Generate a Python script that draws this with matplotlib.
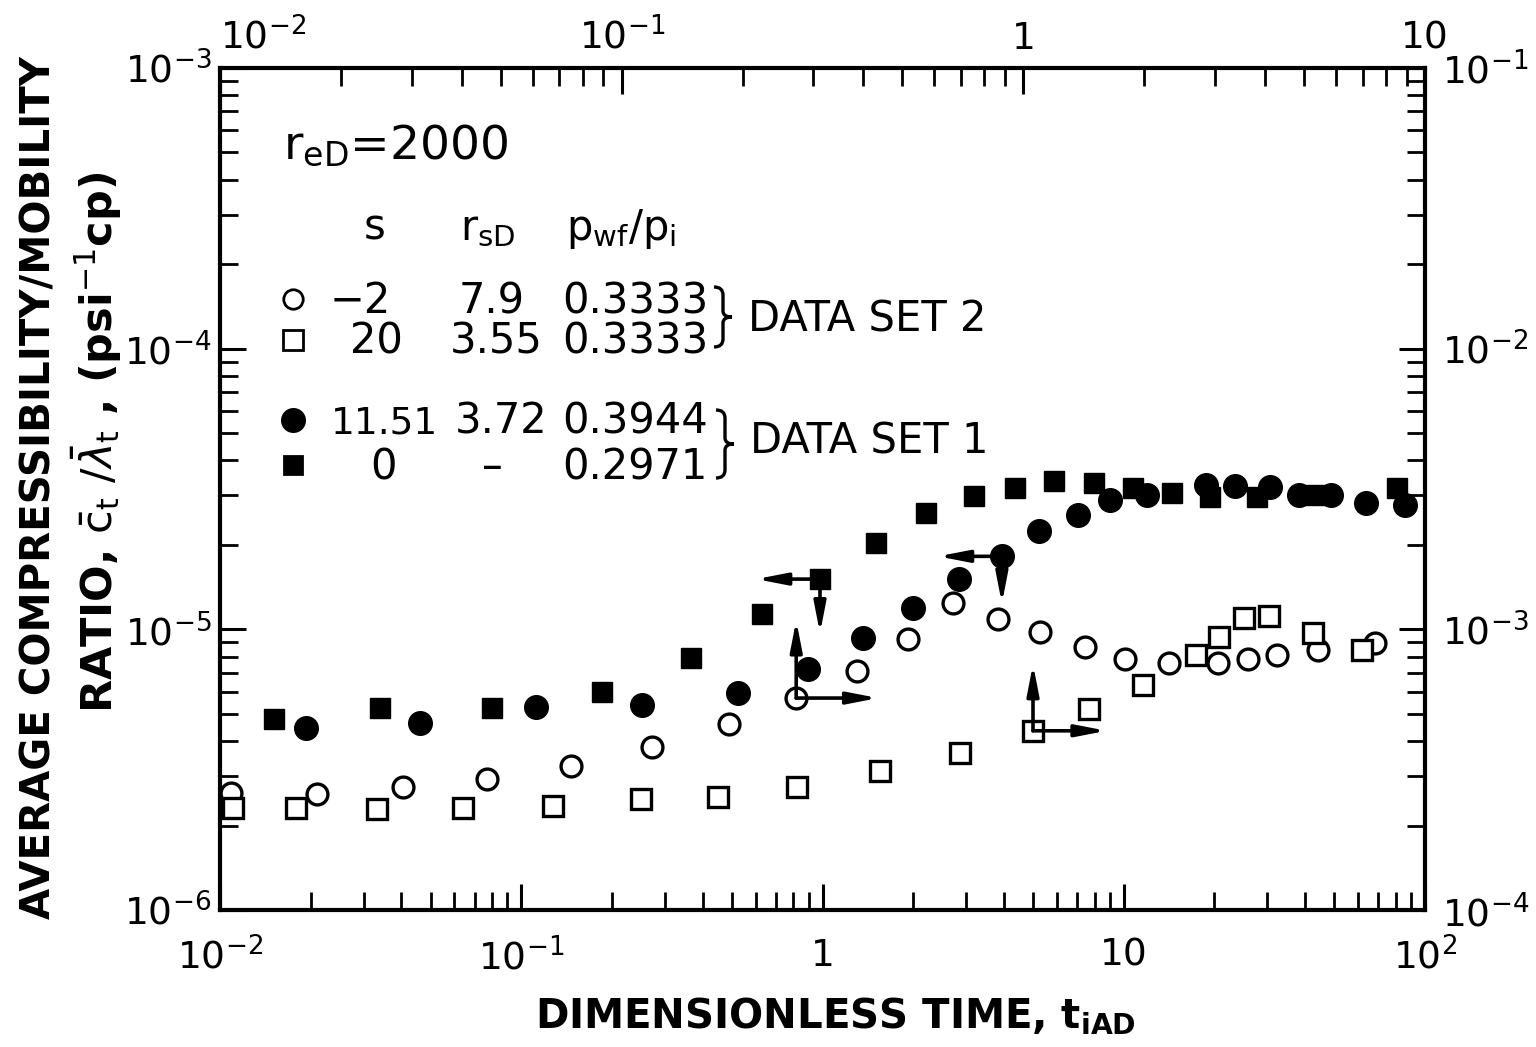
import matplotlib
matplotlib.use("Agg")
import matplotlib.pyplot as plt
from matplotlib.lines import Line2D
from matplotlib.path import Path
from matplotlib.patches import PathPatch
from matplotlib.ticker import NullFormatter

plt.rcParams['font.family'] = ['DejaVu Sans']
plt.rcParams['mathtext.fontset'] = 'dejavusans'

# ---- data set 1 (filled symbols), read on bottom / left axes ----
t_sq1 = [0.0151, 0.0340, 0.0800, 0.185, 0.366, 0.630, 0.981, 1.51, 2.21, 3.18,
         4.36, 5.87, 7.96, 10.7, 14.5, 19.3, 27.7, 43.2, 80.7]
c_sq1 = [4.80e-6, 5.25e-6, 5.25e-6, 5.98e-6, 7.91e-6, 1.135e-5, 1.51e-5, 2.03e-5,
         2.60e-5, 2.99e-5, 3.19e-5, 3.38e-5, 3.32e-5, 3.19e-5, 3.06e-5, 2.97e-5,
         2.97e-5, 3.01e-5, 3.19e-5]
t_ci1 = [0.0193, 0.0461, 0.112, 0.252, 0.524, 0.895, 1.36, 2.00, 2.84, 3.94,
         5.24, 7.05, 9.00, 11.9, 18.7, 23.4, 30.6, 38.2, 48.7, 63.7, 85.9]
c_ci1 = [4.45e-6, 4.63e-6, 5.28e-6, 5.37e-6, 5.93e-6, 7.22e-6, 9.31e-6, 1.19e-5,
         1.51e-5, 1.82e-5, 2.24e-5, 2.55e-5, 2.89e-5, 3.01e-5, 3.27e-5, 3.24e-5,
         3.21e-5, 3.01e-5, 3.01e-5, 2.82e-5, 2.77e-5]

# ---- data set 2 (open symbols), read on top / right axes ----
t_ci2 = [0.01065, 0.01746, 0.02857, 0.0462, 0.0748, 0.119, 0.185, 0.272, 0.385,
         0.516, 0.668, 0.865, 1.10, 1.42, 1.79, 2.31, 3.05, 3.63, 4.28, 5.42, 7.51]
c_ci2 = [2.61e-4, 2.59e-4, 2.74e-4, 2.93e-4, 3.26e-4, 3.81e-4, 4.60e-4, 5.69e-4,
         7.11e-4, 9.24e-4, 1.24e-3, 1.09e-3, 9.77e-4, 8.65e-4, 7.83e-4, 7.59e-4,
         7.59e-4, 7.83e-4, 8.10e-4, 8.43e-4, 8.93e-4]
t_sq2 = [0.01077, 0.01546, 0.0246, 0.0403, 0.0675, 0.1117, 0.174, 0.273, 0.440,
         0.695, 1.057, 1.457, 1.99, 2.69, 3.07, 3.54, 4.09, 5.26, 6.97]
c_sq2 = [2.31e-4, 2.31e-4, 2.29e-4, 2.31e-4, 2.35e-4, 2.49e-4, 2.53e-4, 2.74e-4,
         3.13e-4, 3.62e-4, 4.35e-4, 5.20e-4, 6.34e-4, 8.10e-4, 9.40e-4, 1.10e-3,
         1.12e-3, 9.71e-4, 8.43e-4]

# table in the upper left
col_s = ['\u22122', '20', '11.51', '0']
col_rsd = ['7.9', '3.55', '3.72', '\u2013']
col_p = ['0.3333', '0.3333', '0.3944', '0.2971']

bottom_ticks = [1e-2, 1e-1, 1, 10, 100]
bottom_labels = ['$10^{-2}$', '$10^{-1}$', '1', '10', '$10^{2}$']
top_ticks = [1e-2, 1e-1, 1, 10]
top_labels = ['$10^{-2}$', '$10^{-1}$', '1', '10']
left_ticks = [1e-6, 1e-5, 1e-4, 1e-3]
left_labels = ['$10^{-6}$', '$10^{-5}$', '$10^{-4}$', '$10^{-3}$']
right_ticks = [1e-4, 1e-3, 1e-2, 1e-1]
right_labels = ['$10^{-4}$', '$10^{-3}$', '$10^{-2}$', '$10^{-1}$']

W, H = 1536, 1047


def fx(px):
    return px / W


def fy(py):
    return 1 - py / H


def brace(fig, x0, y_top, y_bot, width):
    # thin right-facing curly brace, drawn in figure pixels
    ym = (y_top + y_bot) / 2
    xm = x0 + width * 0.5
    pts = [(x0, y_top), (xm, y_top), (xm, y_top + 8),
           (xm, ym - 6),
           (xm, ym), (x0 + width, ym),
           (xm, ym), (xm, ym + 6),
           (xm, y_bot - 8),
           (xm, y_bot), (x0, y_bot)]
    codes = [Path.MOVETO, Path.CURVE3, Path.CURVE3, Path.LINETO,
             Path.CURVE3, Path.CURVE3, Path.CURVE3, Path.CURVE3,
             Path.LINETO, Path.CURVE3, Path.CURVE3]
    verts = [(fx(px), fy(py)) for px, py in pts]
    fig.add_artist(PathPatch(Path(verts, codes), fill=False, lw=2.4,
                             ec='black', transform=fig.transFigure))


fig = plt.figure(figsize=(W / 100, H / 100), dpi=100)
rect = [fx(220), fy(910), (1425 - 220) / W, (910 - 68) / H]
ax = fig.add_axes(rect)
ax2 = fig.add_axes(rect, frameon=False)

ax.set_xscale('log')
ax.set_yscale('log')
ax.set_xlim(1e-2, 1e2)
ax.set_ylim(1e-6, 1e-3)
ax2.set_xscale('log')
ax2.set_yscale('log')
ax2.set_xlim(1e-2, 1e1)
ax2.set_ylim(1e-4, 1e-1)
ax2.patch.set_alpha(0)

ax.set_xticks(bottom_ticks, bottom_labels)
ax.set_yticks(left_ticks, left_labels)
ax2.xaxis.tick_top()
ax2.yaxis.tick_right()
ax2.set_xticks(top_ticks, top_labels)
ax2.set_yticks(right_ticks, right_labels)
for a in (ax, ax2):
    a.xaxis.set_minor_formatter(NullFormatter())
    a.yaxis.set_minor_formatter(NullFormatter())
    a.tick_params(which='major', direction='in', length=19, width=2.2,
                  labelsize=27, color='black')
    a.tick_params(which='minor', direction='in', length=13, width=2.0)
ax.tick_params(axis='x', pad=20)
ax.tick_params(axis='y', pad=6)
ax2.tick_params(axis='x', pad=8)
ax2.tick_params(axis='y', pad=12)
for lab in ax2.get_xticklabels()[:1]:
    lab.set_horizontalalignment('left')
for sp in ax.spines.values():
    sp.set_linewidth(3)

# filled: data set 1
ax.plot(t_sq1, c_sq1, 's', color='black', ms=14, ls='none')
ax.plot(t_ci1, c_ci1, 'o', color='black', ms=17, ls='none')
# open: data set 2
ax2.plot(t_ci2, c_ci2, 'o', mfc='white', mec='black', mew=2.4, ms=15, ls='none')
ax2.plot(t_sq2, c_sq2, 's', mfc='white', mec='black', mew=2.4, ms=15, ls='none')

# axis-indicator arrows
arr = dict(arrowstyle='<|-,head_length=1.8,head_width=0.35', color='black',
           lw=2.6, shrinkA=0, shrinkB=0)
ax.annotate('', xy=(t_sq1[6], c_sq1[6]), xytext=(-46, 0),
            textcoords='offset points', arrowprops=arr)
ax.annotate('', xy=(t_sq1[6], c_sq1[6]), xytext=(0, -39),
            textcoords='offset points', arrowprops=arr)
ax.annotate('', xy=(t_ci1[9], c_ci1[9]), xytext=(-46, 0),
            textcoords='offset points', arrowprops=arr)
ax.annotate('', xy=(t_ci1[9], c_ci1[9]), xytext=(0, -34),
            textcoords='offset points', arrowprops=arr)
ax2.annotate('', xy=(t_ci2[7], c_ci2[7]), xytext=(59, 0),
             textcoords='offset points', arrowprops=arr)
ax2.annotate('', xy=(t_ci2[7], c_ci2[7]), xytext=(0, 56),
             textcoords='offset points', arrowprops=arr)
ax2.annotate('', xy=(t_sq2[10], c_sq2[10]), xytext=(53, 0),
             textcoords='offset points', arrowprops=arr)
ax2.annotate('', xy=(t_sq2[10], c_sq2[10]), xytext=(0, 48),
             textcoords='offset points', arrowprops=arr)

# axis titles
fig.text(fx(40), fy(488), 'AVERAGE COMPRESSIBILITY/MOBILITY', rotation=90,
         ha='center', va='center', fontsize=29, fontweight='bold')
fig.text(fx(97), fy(442),
         r'RATIO, $\bar{\mathrm{c}}_{\mathrm{t}}\ /\bar{\lambda}_{\mathrm{t}}$ , '
         r'(psi$^{-1}$cp)', rotation=90,
         ha='center', va='center', fontsize=31, fontweight='bold')
fig.text(fx(835), fy(1028), r'DIMENSIONLESS TIME, t$_{\mathbf{iAD}}$',
         ha='center', va='baseline', fontsize=29, fontweight='bold')

# table text
fs = 30
fig.text(fx(283), fy(158), r'r$_{\mathrm{eD}}$=2000', fontsize=34, va='baseline')
fig.text(fx(375), fy(240), 's', fontsize=fs, ha='center', va='baseline')
fig.text(fx(488), fy(240), r'r$_{\mathrm{sD}}$', fontsize=fs, ha='center',
         va='baseline')
fig.text(fx(566), fy(240), r'p$_{\mathrm{wf}}$/p$_{\mathrm{i}}$', fontsize=fs,
         ha='left', va='baseline')

row_y = [313, 354, 434, 479]
row_sym = ['o', 's', 'o', 's']
row_fill = ['white', 'white', 'black', 'black']
row_ms = [14, 14, 16, 13]
s_x = [330, 350, 331, 370]
s_fs = [fs, fs, 27, fs]
rsd_x = [459, 450, 455, 482]
for i in range(4):
    yb = row_y[i]
    fig.add_artist(Line2D([fx(293)], [fy(yb - 14)], marker=row_sym[i],
                          mfc=row_fill[i], mec='black', mew=2.0,
                          ms=row_ms[i], ls='none'))
    fig.text(fx(s_x[i]), fy(yb), col_s[i], fontsize=s_fs[i], ha='left',
             va='baseline')
    fig.text(fx(rsd_x[i]), fy(yb), col_rsd[i], fontsize=fs, ha='left',
             va='baseline')
    fig.text(fx(562), fy(yb), col_p[i], fontsize=fs, ha='left', va='baseline')

brace(fig, 714, 287, 347, 18)
fig.text(fx(748), fy(320), 'DATA SET 2', fontsize=fs, ha='left', va='center')
brace(fig, 716, 410, 478, 18)
fig.text(fx(750), fy(441), 'DATA SET 1', fontsize=fs, ha='left', va='center')

fig.savefig('out.png', dpi=100, facecolor='white')
